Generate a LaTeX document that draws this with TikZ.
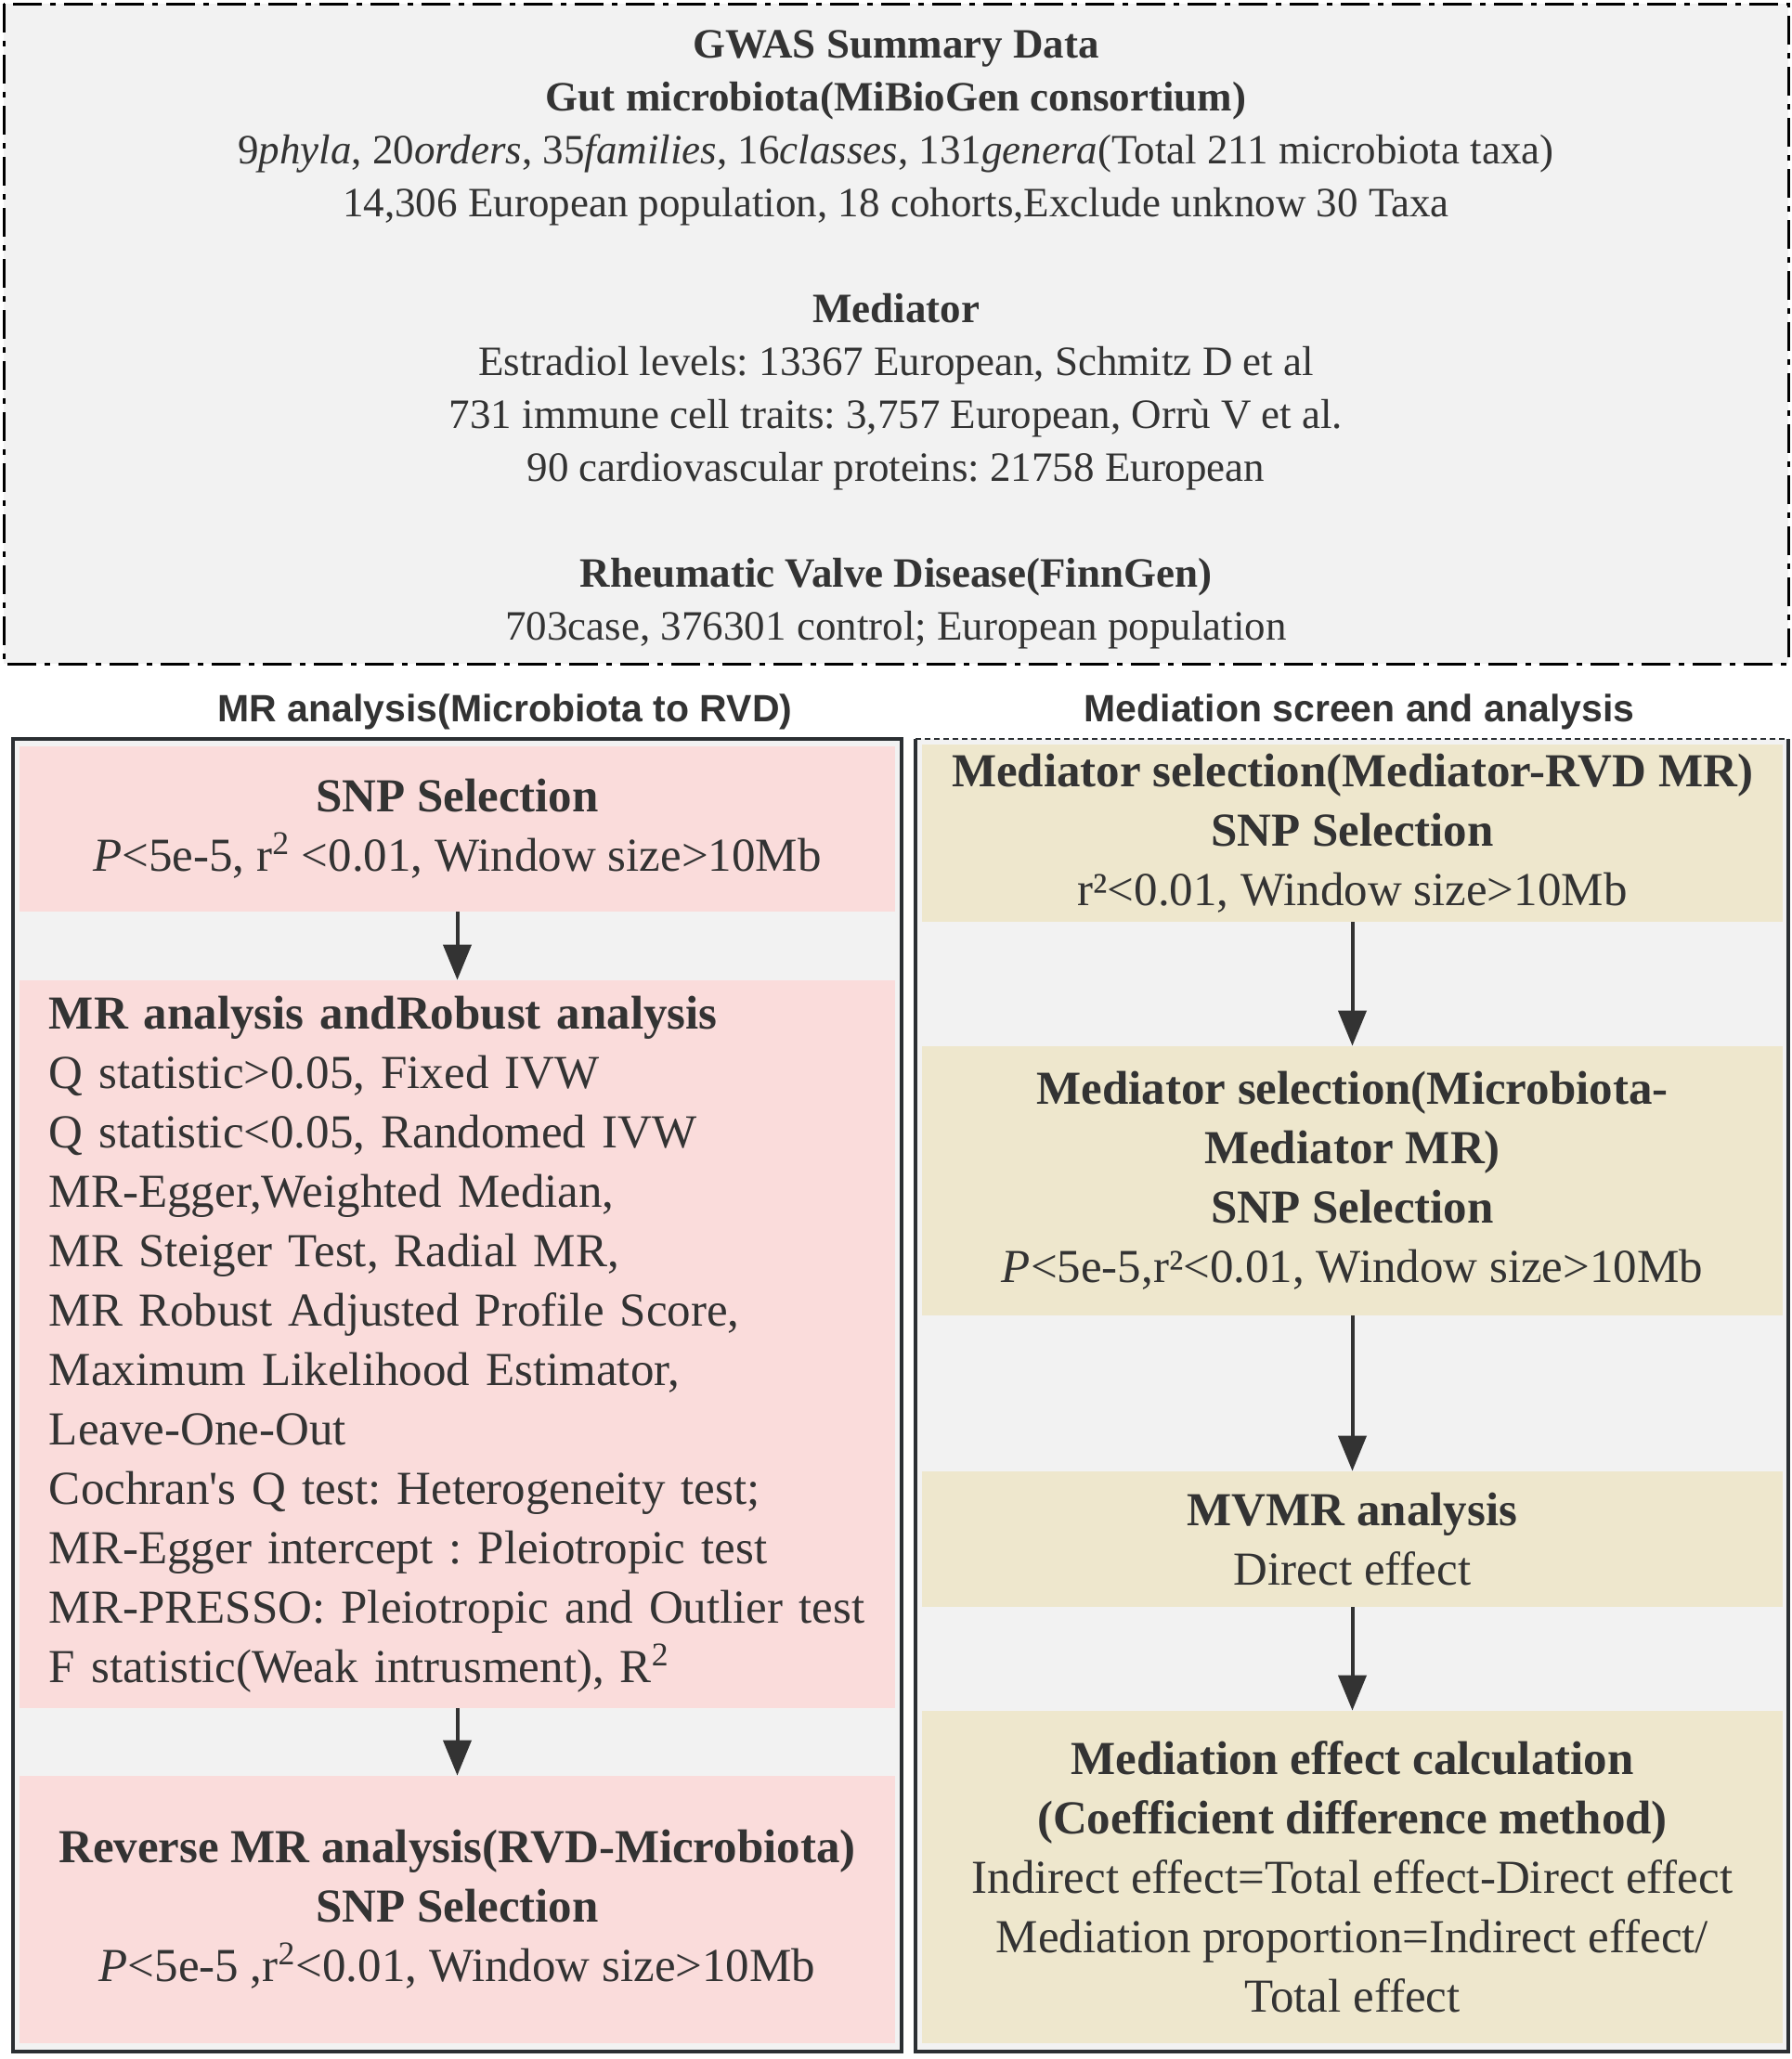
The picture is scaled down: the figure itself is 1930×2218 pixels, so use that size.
\documentclass[tikz,border=0pt]{standalone}
\usepackage{fontspec}
\setmainfont{Liberation Serif}
\newfontfamily\headfont{Liberation Sans}
\usetikzlibrary{arrows.meta,positioning}
\frenchspacing

\definecolor{bggray}{HTML}{F2F2F2}
\definecolor{pinkfill}{HTML}{FADCDB}
\definecolor{tanfill}{HTML}{EEE7CD}
\definecolor{inkgray}{HTML}{333333}
\definecolor{framegray}{HTML}{2B2F33}

\tikzset{
  topframe/.style={fill=bggray, draw=black, line width=1.5pt,
    dash pattern=on 15.5pt off 4.5pt on 3pt off 4.5pt},
  toptext/.style={inner sep=0pt, align=center, text=inkgray,
    font=\fontsize{22.5pt}{28.5pt}\selectfont},
  pinkbox/.style={fill=pinkfill, minimum width=471.5pt, inner sep=0pt,
    align=center, text=inkgray, font=\fontsize{25.5pt}{32pt}\selectfont},
  tanbox/.style={fill=tanfill, minimum width=463.5pt, inner sep=0pt,
    align=center, text=inkgray, font=\fontsize{25.5pt}{32pt}\selectfont},
  frame/.style={fill=bggray, draw=framegray, line width=2pt},
  header/.style={text=inkgray, font=\headfont\bfseries\fontsize{20.5pt}{24pt}\selectfont},
  flow/.style={-{Triangle[length=19pt,width=15pt]}, line width=2pt, draw=inkgray, fill=inkgray}
}

\begin{document}
\begin{tikzpicture}[x=0.5pt,y=-0.5pt]
  \useasboundingbox (0,0) rectangle (1930,2218);

  % data sources
  \draw[topframe] (4,4) rectangle (1926,715);
  \node[toptext] (gwas) at (965,366) {%
    \textbf{GWAS Summary Data}\\
    \textbf{Gut microbiota(MiBioGen consortium)}\\
    9\textit{phyla}, 20\textit{orders}, 35\textit{families}, 16\textit{classes}, 131\textit{genera}(Total 211 microbiota taxa)\\
    14,306 European population, 18 cohorts,Exclude unknow 30 Taxa\\[28.5pt]
    \textbf{Mediator}\\
    Estradiol levels: 13367 European, Schmitz D et al\\
    731 immune cell traits: 3,757 European, Orrù V et al.\\
    90 cardiovascular proteins: 21758 European\\[28.5pt]
    \textbf{Rheumatic Valve Disease(FinnGen)}\\
    703case, 376301 control; European population};

  % the two panels
  \draw[frame] (14,796) rectangle (971,2210);
  \fill[bggray] (986,796) rectangle (1926,2210);
  \draw[framegray, line width=2pt] (986,796) -- (986,2210) -- (1926,2210) -- (1926,796);
  \draw[framegray, line width=1pt, dash pattern=on 3pt off 2pt] (986,796) -- (1926,796);

  \node[header] (mrhead)  at (544,767)  {MR analysis(Microbiota to RVD)};
  \node[header] (medhead) at (1464,767) {Mediation screen and analysis};

  % left column
  \node[pinkbox, minimum height=89pt] (snpsel) at (492.5,893) {%
    \textbf{SNP Selection}\\
    \textit{P}<5e-5, r\textsuperscript{2} <0.01, Window size>10Mb};

  \node[pinkbox, minimum height=392pt, text width=439.5pt, inner xsep=16pt, align=left] (robust) at (492.5,1448) {%
    \textbf{MR analysis andRobust analysis}\\
    Q statistic>0.05, Fixed IVW\\
    Q statistic<0.05, Randomed IVW\\
    MR-Egger,Weighted Median,\\
    MR Steiger Test, Radial MR,\\
    MR Robust Adjusted Profile Score,\\
    Maximum Likelihood Estimator,\\
    Leave-One-Out\\
    Cochran\textquotesingle s Q test: Heterogeneity test;\\
    MR-Egger intercept : Pleiotropic test\\
    MR-PRESSO: Pleiotropic and Outlier test\\
    F statistic(Weak intrusment), R\textsuperscript{2}};

  \node[pinkbox, minimum height=144pt] (reverse) at (492.5,2057) {%
    \textbf{Reverse MR analysis(RVD-Microbiota)}\\
    \textbf{SNP Selection}\\
    \textit{P}<5e-5 ,r\textsuperscript{2}<0.01, Window size>10Mb};

  % right column
  \node[tanbox, minimum height=95.5pt] (medrvd) at (1456.5,897.5) {%
    \textbf{Mediator selection(Mediator-RVD MR)}\\
    \textbf{SNP Selection}\\
    r²<0.01, Window size>10Mb};

  \node[tanbox, minimum height=145pt] (micmed) at (1456.5,1272) {%
    \textbf{Mediator selection(Microbiota-}\\
    \textbf{Mediator MR)}\\
    \textbf{SNP Selection}\\
    \textit{P}<5e-5,r²<0.01, Window size>10Mb};

  \node[tanbox, minimum height=73pt] (mvmr) at (1456.5,1658) {%
    \textbf{MVMR analysis}\\
    Direct effect};

  \node[tanbox, minimum height=179pt] (effect) at (1456.5,2022) {%
    \textbf{Mediation effect calculation}\\
    \textbf{(Coefficient difference method)}\\
    Indirect effect=Total effect-Direct effect\\
    Mediation proportion=Indirect effect/\\
    Total effect};

  % arrows
  \draw[flow] (snpsel) -- (robust);
  \draw[flow] (robust) -- (reverse);
  \draw[flow] (medrvd) -- (micmed);
  \draw[flow] (micmed) -- (mvmr);
  \draw[flow] (mvmr) -- (effect);
\end{tikzpicture}
\end{document}
